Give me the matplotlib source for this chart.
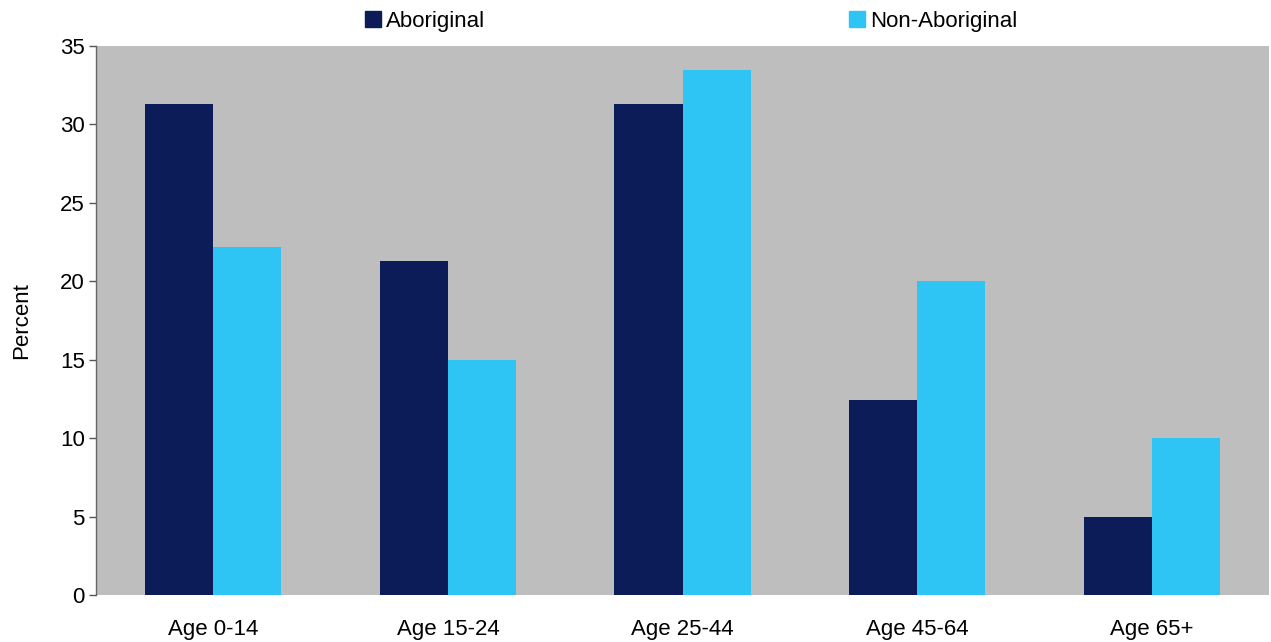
import matplotlib
matplotlib.use("Agg")
import matplotlib.pyplot as plt
import numpy as np
from matplotlib.patches import Patch

categories = ["Age 0-14", "Age 15-24", "Age 25-44", "Age 45-64", "Age 65+"]
aboriginal = [31.3, 21.3, 31.3, 12.45, 5.0]
non_aboriginal = [22.2, 15.0, 33.5, 20.05, 10.0]
yticks = [0, 5, 10, 15, 20, 25, 30, 35]

plt.rcParams['font.family'] = ['Liberation Sans', 'DejaVu Sans']

fig = plt.figure(figsize=(12.71, 6.42), dpi=100)
ax = fig.add_axes([96/1271, 47/642, (1269-96)/1271, (595-46)/642])
ax.set_facecolor('#BEBEBE')

x = np.arange(len(categories))
w = 0.29
c1 = '#0C1C59'
c2 = '#2EC5F5'
ax.bar(x - w/2, aboriginal, w, color=c1, label='Aboriginal')
ax.bar(x + w/2, non_aboriginal, w, color=c2, label='Non-Aboriginal')

ax.set_xlim(-0.5, len(categories) - 0.5)
ax.set_ylim(0, 35)
ax.set_yticks(yticks)
ax.set_xticks(x)
ax.set_xticklabels(categories, fontsize=16)
ax.tick_params(axis='x', length=0, pad=17)
ax.tick_params(axis='y', labelsize=16, length=5, width=1, color='#555555', direction='out', pad=3)
for s in ['top', 'right', 'bottom']:
    ax.spines[s].set_visible(False)
ax.spines['left'].set_color('#666666')
ax.spines['left'].set_linewidth(1)
ax.set_ylabel('Percent', fontsize=16, labelpad=20)

handles = [Patch(color=c1), Patch(color=c2)]
leg = fig.legend(handles, ['Aboriginal', 'Non-Aboriginal'], ncol=2,
                 loc='center left', bbox_to_anchor=(365/1271, 1 - 21/642),
                 frameon=False, fontsize=16, handlelength=0.72, handleheight=0.72,
                 handletextpad=0.22, columnspacing=16.4, borderaxespad=0, borderpad=0)

fig.savefig('out.png', dpi=100)
